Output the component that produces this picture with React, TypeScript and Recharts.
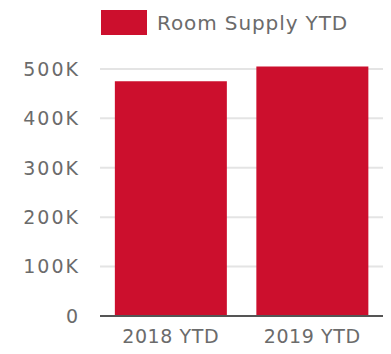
import { BarChart, Bar, XAxis, YAxis, CartesianGrid, Legend } from "recharts";

const categories = ["2018 YTD", "2019 YTD"];
const roomSupply = [475000, 505000];
const yTicks = [0, 100000, 200000, 300000, 400000, 500000];
const yMax = 510000;

const data = categories.map((c, i) => ({ name: c, supply: roomSupply[i] }));

const RED = "#cc0f2d";
const TEXT = "#6b6b6b";
const FONT = "'DejaVu Sans', sans-serif";

const fmtK = (v: number) => (v === 0 ? "0" : `${v / 1000}K`);

function LegendBox() {
  return (
    <div style={{ display: "flex", alignItems: "center", marginTop: 10, marginLeft: 101, fontFamily: FONT }}>
      <div style={{ width: 46, height: 25, background: RED }} />
      <span style={{ marginLeft: 10, fontSize: 20, color: TEXT, letterSpacing: 0.9 }}>Room Supply YTD</span>
    </div>
  );
}

// grid only at the labelled ticks, not at the top of the domain
const gridRows = ({ yAxis, offset }: any) => {
  const s = yAxis && yAxis.scale;
  if (typeof s === "function") return yTicks.map((t) => s(t));
  if (s && typeof s.map === "function") return yTicks.map((t) => s.map(t));
  return yTicks.map((t) => offset.top + offset.height * (1 - t / yMax));
};

export default function App() {
  return (
    <div style={{ position: "absolute", left: 0, top: 0, background: "#fff" }}>
      <BarChart width={391} height={354} data={data} margin={{ top: 0, right: 8, left: 0, bottom: 0 }} barCategoryGap="10.5%">
        <Legend verticalAlign="top" align="left" height={64} content={() => <LegendBox />} />
        <CartesianGrid vertical={false} stroke="#e4e4e4" strokeWidth={2} horizontalCoordinatesGenerator={gridRows} />
        <XAxis
          dataKey="name"
          height={38}
          tickLine={false}
          tickSize={0}
          tickMargin={14}
          axisLine={{ stroke: "#555", strokeWidth: 2 }}
          tick={{ fill: TEXT, fontSize: 19, fontFamily: FONT, letterSpacing: 0.6 }}
        />
        <YAxis
          width={100}
          domain={[0, yMax]}
          ticks={yTicks}
          tickFormatter={fmtK}
          axisLine={false}
          tickLine={false}
          tickSize={0}
          tickMargin={20}
          tick={{ fill: TEXT, fontSize: 19, fontFamily: FONT, letterSpacing: 2 }}
        />
        <Bar dataKey="supply" fill={RED} isAnimationActive={false} />
      </BarChart>
    </div>
  );
}
